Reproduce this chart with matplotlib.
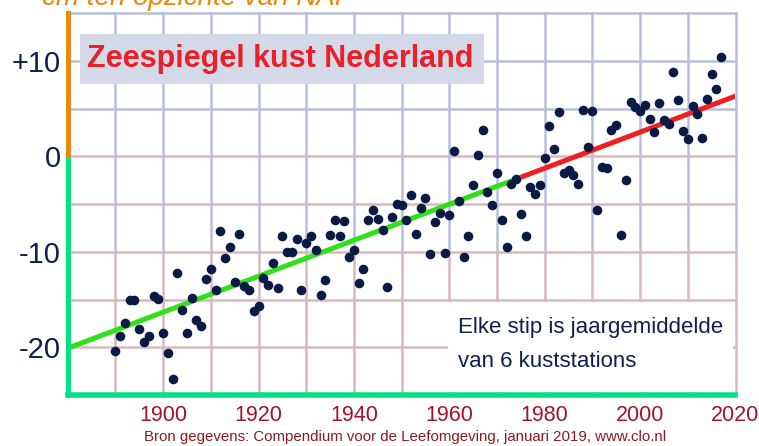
import matplotlib.pyplot as plt
from matplotlib.patches import Rectangle

plt.rcParams['font.family'] = ['Liberation Sans', 'DejaVu Sans']

# jaargemiddelde zeespiegel (cm t.o.v. NAP), 6 kuststations
jaren = list(range(1890, 2018))
zeespiegel = [
    -20.4, -18.8, -17.5, -15.0, -15.0, -18.1, -19.4, -18.8, -14.6, -14.9,
    -18.5, -20.6, -23.3, -12.2, -16.1, -18.5, -14.8, -17.1, -17.8, -12.9,
    -11.8, -14.0, -7.8, -10.7, -9.5, -13.2, -8.1, -13.6, -14.0, -16.2,
    -15.7, -12.7, -13.5, -11.2, -13.8, -8.3, -10.0, -10.0, -8.7, -14.0,
    -9.1, -8.3, -9.8, -14.5, -13.0, -8.2, -6.7, -8.3, -6.8, -10.5,
    -9.8, -13.3, -11.8, -6.7, -5.6, -6.6, -7.7, -13.7, -6.4, -5.0,
    -5.1, -6.7, -4.1, -8.1, -5.4, -4.4, -10.2, -6.9, -5.9, -10.1,
    -6.2, 0.6, -4.7, -10.5, -8.4, -3.0, 0.1, 2.8, -3.7, -5.1,
    -1.8, -6.7, -9.5, -2.9, -2.4, -6.0, -8.4, -3.2, -4.0, -3.0,
    -0.2, 3.2, 0.8, 4.6, -1.8, -1.4, -2.0, -2.9, 4.8, 1.0,
    4.7, -5.6, -1.1, -1.2, 2.7, 3.3, -8.2, -2.5, 5.7, 5.2,
    4.7, 5.4, 3.9, 2.5, 5.6, 3.8, 3.4, 8.8, 5.9, 2.6,
    1.8, 5.3, 4.4, 1.9, 6.0, 8.6, 7.0, 10.4,
]

# trendlijn: groen deel en rood deel
trend_groen_x = [1880, 1975]
trend_groen_y = [-20.1, -2.2]
trend_rood_x = [1975, 2020]
trend_rood_y = [-2.2, 6.3]

xticks = [1900, 1920, 1940, 1960, 1980, 2000, 2020]
yticks = [-20, -10, 0, 10]
ylabels = ['-20', '-10', '0', '+10']

blauw_grid = '#b9bed9'
roze_grid = '#d8b9bd'
oranje = '#e8890c'
groen_as = '#05e085'
navy = '#0f1f4f'
donkerrood = '#a0142e'

fig = plt.figure(figsize=(7.59, 4.46), dpi=100)
ax = fig.add_axes([67.7 / 759, 1 - 395 / 446, (735.5 - 67.7) / 759, (395 - 13) / 446])
ax.set_xlim(1880, 2020)
ax.set_ylim(-25, 15)

# raster, boven blauwig en onder rozig
for x in range(1890, 2021, 10):
    ax.plot([x, x], [-10, 15], color=blauw_grid, lw=1.8, zorder=1, clip_on=False)
    ax.plot([x, x], [-25, -10], color=roze_grid, lw=1.8, zorder=1, clip_on=False)
for y in range(-20, 16, 5):
    kleur = blauw_grid if y > 0 else roze_grid
    ax.plot([1880, 2020], [y, y], color=kleur, lw=1.8, zorder=1, clip_on=False)

for s in ax.spines.values():
    s.set_visible(False)
ax.axvline(1880, ymin=(-0.4 + 25) / 40, ymax=1, color=oranje, lw=3.6, clip_on=False, zorder=4)
ax.axvline(1880, ymin=0, ymax=(-0.4 + 25) / 40, color=groen_as, lw=3.6, clip_on=False, zorder=4)
ax.axhline(-25, color=groen_as, lw=4, clip_on=False, zorder=4)

ax.plot(trend_groen_x, trend_groen_y, color='#2fe01a', lw=3.6, zorder=3, solid_capstyle='butt')
ax.plot(trend_rood_x, trend_rood_y, color='#ee2020', lw=3.6, zorder=3, solid_capstyle='butt')
ax.scatter(jaren, zeespiegel, s=48, color='#0b1a45', linewidths=0, zorder=5)

ax.set_xticks(xticks)
ax.set_xticklabels([str(t) for t in xticks], color=donkerrood, fontsize=15.5)
ax.set_yticks(yticks)
ax.set_yticklabels(ylabels, color=navy, fontsize=21)
ax.tick_params(axis='x', length=0, pad=7)
ax.tick_params(axis='y', length=0, pad=5)

# titelkader
fig.patches.append(Rectangle((80 / 759, 1 - 84 / 446), 404 / 759, 50 / 446,
                             transform=fig.transFigure, facecolor='#d4d9e8',
                             edgecolor='none', zorder=6))
fig.text(280 / 759, 1 - 59 / 446, 'Zeespiegel kust Nederland', color='#e8202a',
         fontsize=22, fontweight='bold', ha='center', va='center', zorder=7)

# toelichting
fig.patches.append(Rectangle((448 / 759, 1 - 392 / 446), 285 / 759, 90 / 446,
                             transform=fig.transFigure, facecolor='white',
                             edgecolor='none', zorder=6))
fig.text(458 / 759, 1 - 333 / 446, 'Elke stip is jaargemiddelde', color=navy,
         fontsize=16, ha='left', va='baseline', zorder=7)
fig.text(458 / 759, 1 - 367 / 446, 'van 6 kuststations', color=navy,
         fontsize=16, ha='left', va='baseline', zorder=7)

# afgesneden kop bovenaan (ook in het origineel afgesneden)
fig.text(353 / 759, 1 - 5 / 446, 'cm ten opzichte van NAP', color=oranje,
         fontsize=20, fontstyle='italic', ha='right', va='baseline')

# bron
fig.text(405 / 759, 1 - 441 / 446,
         'Bron gegevens: Compendium voor de Leefomgeving, januari 2019, www.clo.nl',
         color='#8c1a22', fontsize=10.8, ha='center', va='baseline')

fig.savefig('out.png', dpi=100)
